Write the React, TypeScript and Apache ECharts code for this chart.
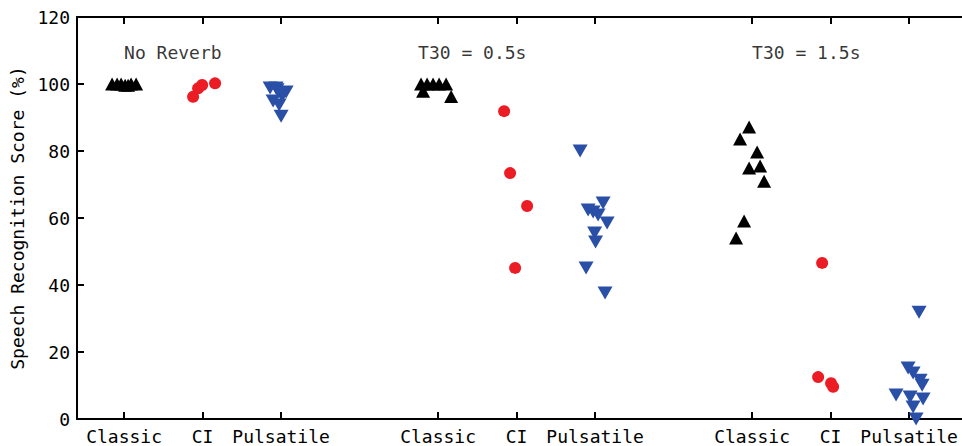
import React, { useEffect, useRef } from "react";
import * as echarts from "echarts";

// Category tick positions (value-axis units) and their labels
const categoryTicks = [1, 2, 3, 5, 6, 7, 9, 10, 11];
const categoryLabels = ["Classic", "CI", "Pulsatile", "Classic", "CI", "Pulsatile", "Classic", "CI", "Pulsatile"];

// Condition annotations
const conditionNames = ["No Reverb", "T30 = 0.5s", "T30 = 1.5s"];
const conditionX = [1.0, 4.745, 9.0];
const conditionY = [109.5, 109.5, 109.5];

// [jittered x position, score %]
const classicData: [number, number][] = [
  // No Reverb
  [0.847, 100], [0.911, 100], [0.962, 100], [1.013, 99.6], [1.051, 99.6], [1.089, 100], [1.153, 100],
  // T30 = 0.5s
  [4.783, 100], [4.86, 100], [4.936, 100], [5.013, 100], [5.102, 100], [4.809, 97.8], [5.166, 96.3],
  // T30 = 1.5s
  [8.962, 87.2], [8.847, 83.6], [9.064, 79.7], [8.962, 74.9], [9.102, 75.5], [9.153, 71.0], [8.898, 59.1], [8.796, 54.0],
];

const ciData: [number, number][] = [
  [1.879, 96.2], [1.943, 98.7], [1.994, 99.7], [2.159, 100.2],
  [5.841, 91.9], [5.917, 73.4], [6.134, 63.6], [5.981, 45.1],
  [9.892, 46.6], [9.841, 12.5], [10.006, 10.7], [10.032, 9.6],
];

const pulsatileData: [number, number][] = [
  [2.86, 98.8], [2.936, 98.8], [2.949, 98.3], [3.064, 97.6], [3.013, 96.4], [2.898, 94.9], [2.975, 93.7], [3.0, 90.4],
  [6.809, 80.0], [7.102, 64.5], [6.911, 62.4], [6.975, 61.8], [7.038, 60.9], [7.153, 58.5], [6.994, 55.5], [7.006, 52.8], [6.885, 45.1], [7.127, 37.6],
  [11.127, 31.9], [10.987, 15.2], [11.051, 13.7], [11.14, 11.6], [11.166, 10.1], [10.834, 7.2], [11.013, 6.6], [11.178, 6.0], [11.051, 3.6], [11.089, 0.0],
];

const FONT = "DejaVu Sans Mono";

export default function App() {
  const ref = useRef<HTMLDivElement>(null);
  useEffect(() => {
    if (!ref.current) return;
    const chart = echarts.init(ref.current, undefined, { renderer: "svg" });
    const tickIdx = (v: number) => categoryTicks.findIndex((t) => Math.abs(t - v) < 1e-6);
    const axisLine = { show: true, lineStyle: { color: "#000", width: 2 } };
    chart.setOption({
      animation: false,
      backgroundColor: "#fff",
      grid: { left: 77, top: 17, width: 910.6, bottom: 27, containLabel: false, outerBoundsMode: "none" },
      xAxis: [
        {
          type: "value",
          position: "bottom",
          min: 0.4,
          max: 12,
          axisLine,
          splitLine: { show: false },
          axisTick: { show: true, inside: true, length: 7, lineStyle: { width: 2, color: "#000" }, customValues: categoryTicks },
          axisLabel: {
            show: true,
            customValues: categoryTicks,
            margin: 8,
            fontFamily: FONT,
            fontSize: 18,
            color: "#000",
            formatter: (v: number) => {
              const i = tickIdx(v);
              return i >= 0 ? categoryLabels[i] : "";
            },
          },
        },
        {
          type: "value",
          position: "top",
          min: 0.4,
          max: 12,
          axisLine,
          splitLine: { show: false },
          axisTick: { show: true, inside: true, length: 7, lineStyle: { width: 2, color: "#000" }, customValues: categoryTicks },
          axisLabel: { show: false },
        },
      ],
      yAxis: {
        type: "value",
        min: 0,
        max: 120,
        interval: 20,
        name: "Speech Recognition Score (%)",
        nameLocation: "middle",
        nameGap: 47,
        nameTextStyle: { fontFamily: FONT, fontSize: 18, color: "#000" },
        axisLine,
        splitLine: { show: false },
        axisTick: { show: true, inside: true, length: 7, lineStyle: { width: 2, color: "#000" } },
        axisLabel: { margin: 7, fontFamily: FONT, fontSize: 18, color: "#000" },
      },
      series: [
        {
          type: "scatter",
          name: "Classic",
          data: classicData,
          symbol: "triangle",
          symbolSize: [14, 13],
          itemStyle: { color: "#000", opacity: 1 },
        },
        {
          type: "scatter",
          name: "CI",
          data: ciData,
          symbol: "circle",
          symbolSize: 12,
          itemStyle: { color: "#ec1c24", opacity: 1 },
        },
        {
          type: "scatter",
          name: "Pulsatile",
          data: pulsatileData,
          symbol: "triangle",
          symbolRotate: 180,
          symbolSize: [15, 13],
          itemStyle: { color: "#2a4fa6", opacity: 1 },
        },
        {
          type: "scatter",
          name: "Conditions",
          data: conditionX.map((x, i) => [x, conditionY[i]]),
          symbolSize: 1,
          itemStyle: { color: "rgba(0,0,0,0)" },
          label: {
            show: true,
            position: "inside",
            align: "left",
            verticalAlign: "middle",
            fontFamily: FONT,
            fontSize: 18,
            color: "#000",
            formatter: (p: any) => conditionNames[p.dataIndex],
          },
          silent: true,
        },
      ],
    });
    return () => chart.dispose();
  }, []);
  return (
    <div
      ref={ref}
      style={{ position: "fixed", left: 0, top: 0, width: 962, height: 446, background: "#fff" }}
    />
  );
}
